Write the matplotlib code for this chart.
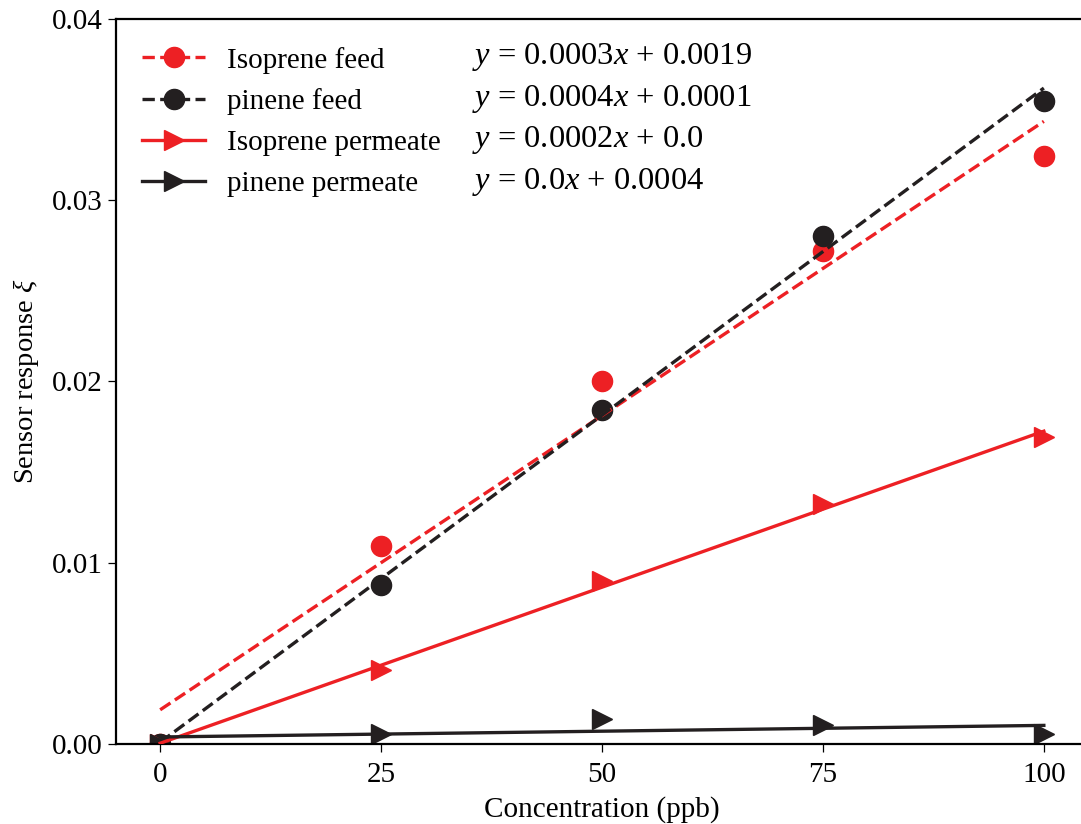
import numpy as np
import matplotlib
matplotlib.use('Agg')
import matplotlib.pyplot as plt
from matplotlib.lines import Line2D

plt.rcParams['font.family'] = ['Liberation Serif', 'DejaVu Serif']
plt.rcParams['mathtext.fontset'] = 'custom'
plt.rcParams['mathtext.rm'] = 'Liberation Serif'
plt.rcParams['mathtext.it'] = 'Liberation Serif:italic'

# concentrations (ppb)
conc = [0, 25, 50, 75, 100]

# sensor response
isoprene_feed = [0.0, 0.01092, 0.02003, 0.0272, 0.03244]
pinene_feed = [0.0, 0.00877, 0.01843, 0.02803, 0.03548]
isoprene_perm = [0.0, 0.00408, 0.00899, 0.01324, 0.01694]
pinene_perm = [0.0, 0.00055, 0.00138, 0.00105, 0.00055]

series_names = ['Isoprene feed', 'pinene feed', 'Isoprene permeate', 'pinene permeate']
series_data = [isoprene_feed, pinene_feed, isoprene_perm, pinene_perm]

RED = '#ED2024'
BLACK = '#231F20'
colors = [RED, BLACK, RED, BLACK]
markers = ['o', 'o', '>', '>']
linestyles = ['--', '--', '-', '-']

fig = plt.figure(figsize=(10.81, 8.24), dpi=100)
ax = fig.add_axes([0.1073, 0.0971, 0.8992, 0.8799])

x = np.array(conc, dtype=float)
handles = []
equations = []
for name, ys, c, m, ls in zip(series_names, series_data, colors, markers, linestyles):
    ys = np.array(ys)
    slope, icpt = np.polyfit(x, ys, 1)
    ax.plot(x, ys, linestyle='none', marker=m, color=c, markersize=14.5, zorder=2)
    ax.plot(x, slope * x + icpt, linestyle=ls, color=c, linewidth=2.4, zorder=3)
    handles.append(Line2D([], [], color=c, linestyle=ls, linewidth=2.4,
                          marker=m, markersize=14.5))
    equations.append(f'$y$ = {round(slope, 4)}$x$ + {round(icpt, 4)}')

ax.set_xlim(-5, 105)
ax.set_ylim(0, 0.04)
ax.set_xticks([0, 25, 50, 75, 100])
ax.set_yticks([0, 0.01, 0.02, 0.03, 0.04])
ax.set_yticklabels(['0.00', '0.01', '0.02', '0.03', '0.04'])
ax.tick_params(labelsize=21, length=6, width=0.9, direction='out')
ax.tick_params(axis='x', pad=7)
ax.spines['right'].set_visible(False)
for s in ['left', 'bottom', 'top']:
    ax.spines[s].set_linewidth(1.6)

ax.set_xlabel('Concentration (ppb)', fontsize=21, labelpad=6)
ax.set_ylabel(r'Sensor response $\xi$', fontsize=20.5, labelpad=8)

leg = ax.legend(handles, series_names, loc='upper left', frameon=False,
                fontsize=21, handlelength=2.16, handletextpad=0.75,
                labelspacing=0.5, bbox_to_anchor=(0.0, 0.998),
                borderaxespad=0.5)

row_y = [57, 99, 140, 182]
for eq, py in zip(equations, row_y):
    ax.text(472 / 1081, 1 - py / 824, eq, transform=fig.transFigure,
            fontsize=23.4, va='center', ha='left')

fig.savefig('out.png', dpi=100)
